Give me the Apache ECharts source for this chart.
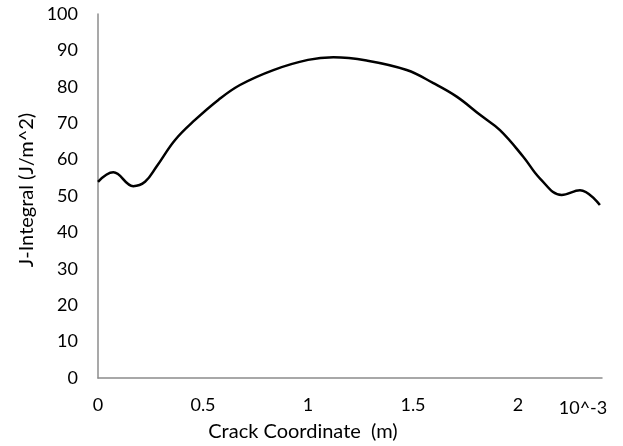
<!DOCTYPE html>
<html>
<head>
  <meta charset="UTF-8">
  <style>
    body { margin: 0; }
    #chart { width: 623px; height: 446px; }
  </style>
  <script src="https://cdn.jsdelivr.net/npm/echarts@6/dist/echarts.min.js"></script>
</head>
<body>
  <div id="chart"></div>
  <script>
    // crack coordinate (x 10^-3 m) and J-integral values
    var crackX = [0, 0.073, 0.168, 0.224, 0.279, 0.367, 0.462, 0.573, 0.676, 0.835, 1.0, 1.121,
      1.279, 1.470, 1.597, 1.708, 1.819, 1.914, 2.025, 2.105, 2.208, 2.295, 2.39];
    var jValues = [53.9, 56.5, 52.7, 53.9, 58.1, 65.4, 70.9, 76.4, 80.5, 84.6, 87.4, 88.1,
      87.2, 84.6, 81, 77.3, 72.3, 68.1, 60.8, 54.8, 50.3, 51.6, 47.5];
    var xTitle = 'Crack Coordinate  (m)';
    var yTitle = 'J-Integral (J/m^2)';
    var unitLabel = '10^-3';

    var font = 'Lato, sans-serif';
    var pts = crackX.map(function (x, i) { return [x, jValues[i]]; });

    var chart = echarts.init(document.getElementById('chart'));
    chart.setOption({
      animation: false,
      grid: { left: 98, right: 21, top: 14, bottom: 68 },
      xAxis: {
        type: 'value',
        min: 0, max: 2.4, interval: 0.5,
        axisLine: { lineStyle: { color: '#8c8c8c', width: 1.5 } },
        axisTick: { show: false },
        splitLine: { show: false },
        axisLabel: {
          margin: 18, color: '#000', fontFamily: font, fontSize: 18,
          formatter: function (v) {
            return Math.abs(v / 0.5 - Math.round(v / 0.5)) < 1e-6 ? String(v) : '';
          }
        }
      },
      yAxis: {
        type: 'value',
        min: 0, max: 100, interval: 10,
        axisLine: { show: true, lineStyle: { color: '#8c8c8c', width: 1.5 } },
        axisTick: { show: false },
        splitLine: { show: false },
        axisLabel: { margin: 20, color: '#000', fontFamily: font, fontSize: 18 }
      },
      graphic: [
        {
          type: 'text', x: 303, y: 432,
          style: { text: xTitle, font: '20px ' + font, fill: '#000', align: 'center', verticalAlign: 'middle' }
        },
        {
          type: 'text', x: 27, y: 190, rotation: Math.PI / 2,
          style: { text: yTitle, font: '20px ' + font, fill: '#000', align: 'center', verticalAlign: 'middle' }
        },
        {
          type: 'text', x: 583, y: 408,
          style: { text: unitLabel, font: '18px ' + font, fill: '#000', align: 'center', verticalAlign: 'middle' }
        }
      ],
      series: [{
        type: 'line',
        data: pts,
        smooth: 0.4,
        showSymbol: false,
        lineStyle: { color: '#000', width: 2.5 }
      }]
    });
  </script>
</body>
</html>
